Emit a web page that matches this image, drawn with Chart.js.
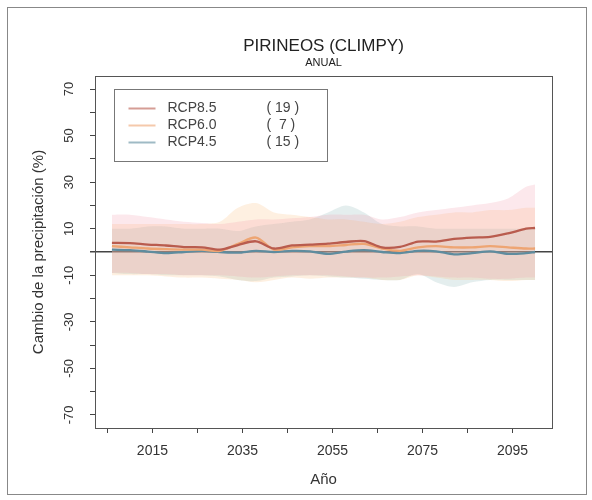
<!DOCTYPE html>
<html>
<head>
<meta charset="utf-8">
<script src="https://cdn.jsdelivr.net/npm/chart.js@4.4.0/dist/chart.umd.min.js"></script>
<style>
html,body{margin:0;padding:0;background:#fff;}
#wrap{position:relative;width:592px;height:500px;}
</style>
</head>
<body>
<div id="wrap"><canvas id="c" width="592" height="500"></canvas></div>
<script>
const years  = [2006,2010,2014,2018,2022,2026,2030,2034,2038,2042,2046,2050,2054,2058,2062,2066,2070,2074,2078,2082,2086,2090,2094,2098,2100];
const rcp85  = [3.9,3.8,3.2,2.8,2.1,2.0,1.0,3.0,4.6,1.5,2.8,3.2,3.6,4.3,4.7,2.0,2.2,4.5,4.5,5.6,6.2,6.5,8.0,10.0,10.3];
const rcp60  = [2.5,2.0,1.5,1.2,1.0,1.0,0.5,3.5,6.2,1.0,2.0,2.5,2.5,3.0,3.5,1.5,0.5,2.0,2.5,2.0,2.0,2.5,2.0,1.5,1.5];
const rcp45  = [1.0,0.8,0.2,-0.5,0.0,0.5,0.0,-0.3,0.5,0.0,0.5,0.3,-0.8,0.2,0.8,0.0,-0.5,0.5,0.3,-1.0,-0.5,0.3,-0.8,-0.5,0.0];
const up85   = [16,16,15,14,13,12.5,12,13,14,14,14.5,15,16,16,16,14,15,17,18,19,20,21,23,28,29];
const lo85   = [-9,-9,-9.5,-9.5,-10,-10,-10,-10.5,-11,-10.5,-10,-10,-10,-10.5,-11,-11,-10.5,-10,-10.5,-11,-11,-11.5,-11.5,-11,-11];
const up60   = [12,12,12,12,12,12,13,19,21,17,16,15,14,14,13,12,13,15,16,17,17,18,18,19,19];
const lo60   = [-10,-10,-10,-10.5,-11,-11,-11.5,-12,-13,-12,-11,-11.5,-11,-11,-11,-12,-12,-10,-11,-12,-12,-12,-12.5,-12,-12];
const up45   = [10,10,11,11,10,10,10,9,11,12,13,14,17,20,17,12,11,11,10,10,10,10,10,10,10];
const lo45   = [-9,-9.5,-9.5,-10,-10,-10,-10.5,-12,-12.5,-11,-10.5,-10,-10.5,-11,-11.5,-12,-12,-9.5,-13,-15,-13,-12,-12,-12,-12];
const names  = ['RCP8.5','RCP6.0','RCP4.5'];
const counts = ['( 19 )','(  7 )','( 15 )'];
const lineColors = ['rgb(185,92,78)','rgb(238,165,115)','rgb(95,140,158)'];
const bandColors = ['rgba(240,140,160,0.20)','rgba(250,185,120,0.22)','rgba(150,190,190,0.26)'];
const yTickValues = [-70,-60,-50,-40,-30,-20,-10,0,10,20,30,40,50,60,70];
const yTickLabels = [-70,-50,-30,-10,10,30,50,70];
const xTickValues = [2005,2015,2025,2035,2045,2055,2065,2075,2085,2095];
const xTickLabels = [2015,2035,2055,2075,2095];
const titleText = 'PIRINEOS (CLIMPY)';
const subtitleText = 'ANUAL';
const xTitle = 'Año';
const yTitle = 'Cambio de la precipitación (%)';
const FONT = '"Liberation Sans", Arial, sans-serif';

const pts = arr => years.map((x,i)=>({x:x,y:arr[i]}));
const lineDs = (arr,i)=>({label:names[i],data:pts(arr),borderColor:lineColors[i],borderWidth:2.3,pointRadius:0,fill:false,tension:0.3});
const bandUp = (arr,i,target)=>({label:names[i]+' max',data:pts(arr),borderWidth:0,borderColor:'rgba(0,0,0,0)',backgroundColor:bandColors[i],pointRadius:0,fill:target,tension:0.3});
const bandLo = (arr,i)=>({label:names[i]+' min',data:pts(arr),borderWidth:0,borderColor:'rgba(0,0,0,0)',pointRadius:0,fill:false,tension:0.3});

const datasets = [
  lineDs(rcp85,0), lineDs(rcp60,1), lineDs(rcp45,2),
  bandUp(up85,0,4), bandLo(lo85,0),
  bandUp(up60,1,6), bandLo(lo60,1),
  bandUp(up45,2,8), bandLo(lo45,2)
];

const decor = {
  id:'decor',
  afterDraw(chart){
    const ctx = chart.ctx, a = chart.chartArea, ys = chart.scales.y;
    ctx.save();
    ctx.strokeStyle = '#888'; ctx.lineWidth = 1;
    ctx.strokeRect(7.5,7.5,579,487);
    ctx.strokeStyle = '#555';
    ctx.strokeRect(Math.round(a.left)+0.5, Math.round(a.top)+0.5, Math.round(a.right-a.left), Math.round(a.bottom-a.top));
    ctx.fillStyle = '#222'; ctx.textAlign = 'center'; ctx.textBaseline = 'middle';
    const cx = (a.left+a.right)/2;
    ctx.font = '17px ' + FONT; ctx.fillText(titleText, cx, 46);
    ctx.font = '11px ' + FONT; ctx.fillText(subtitleText, cx, 63);
    ctx.font = '13px ' + FONT; ctx.fillStyle = '#333';
    yTickLabels.forEach(v=>{
      const py = ys.getPixelForValue(v);
      ctx.save(); ctx.translate(69, py); ctx.rotate(-Math.PI/2);
      ctx.fillText(String(v), 0, 0); ctx.restore();
    });
    const lx = a.left + 19.5, ly = a.top + 13.5;
    ctx.strokeStyle = '#777'; ctx.lineWidth = 1;
    ctx.strokeRect(lx, ly, 213, 72);
    names.forEach((n,i)=>{
      const yy = ly + 19 + i*17;
      ctx.strokeStyle = lineColors[i]; ctx.globalAlpha = 0.6; ctx.lineWidth = 2;
      ctx.beginPath(); ctx.moveTo(lx+14, yy); ctx.lineTo(lx+41, yy); ctx.stroke();
      ctx.globalAlpha = 1;
      ctx.fillStyle = '#444'; ctx.font = '14px ' + FONT; ctx.textAlign = 'left';
      ctx.fillText(n, lx+53, yy);
      ctx.fillText(counts[i], lx+152, yy);
    });
    ctx.restore();
  }
};

new Chart(document.getElementById('c'), {
  type:'line',
  data:{datasets:datasets},
  options:{
    responsive:false, animation:false,
    layout:{padding:{left:0,right:40,top:76,bottom:0}},
    plugins:{legend:{display:false},tooltip:{enabled:false},title:{display:false}},
    scales:{
      x:{
        type:'linear', min:2002.24, max:2103.76,
        afterBuildTicks: s => { s.ticks = xTickValues.map(v=>({value:v})); },
        afterFit: s => { s.height = 72; },
        ticks:{ autoSkip:false, maxRotation:0, padding:10, color:'#333', font:{family:FONT,size:14},
          callback: v => xTickLabels.includes(v) ? String(v) : '' },
        grid:{ drawOnChartArea:false, drawTicks:true, tickLength:5, tickColor:'#444' },
        border:{ display:true, color:'#555' },
        title:{ display:true, text:xTitle, color:'#333', font:{family:FONT,size:15}, padding:{top:4,bottom:11} }
      },
      y:{
        type:'linear', min:-75.6, max:75.6,
        afterBuildTicks: s => { s.ticks = yTickValues.map(v=>({value:v})); },
        afterFit: s => { s.width = 95; },
        ticks:{ display:true, color:'rgba(0,0,0,0)', callback: () => '' , font:{family:FONT,size:11}},
        grid:{ drawOnChartArea:true, drawTicks:true, tickLength:5, tickColor:'#444',
          color: c => (c.tick && c.tick.value === 0) ? '#444' : 'rgba(0,0,0,0)',
          lineWidth: c => (c.tick && c.tick.value === 0) ? 1.5 : 1 },
        border:{ display:true, color:'#555' },
        title:{ display:true, text:yTitle, color:'#333', font:{family:FONT,size:15}, padding:{top:30,bottom:0} }
      }
    }
  },
  plugins:[decor]
});
</script>
</body>
</html>
